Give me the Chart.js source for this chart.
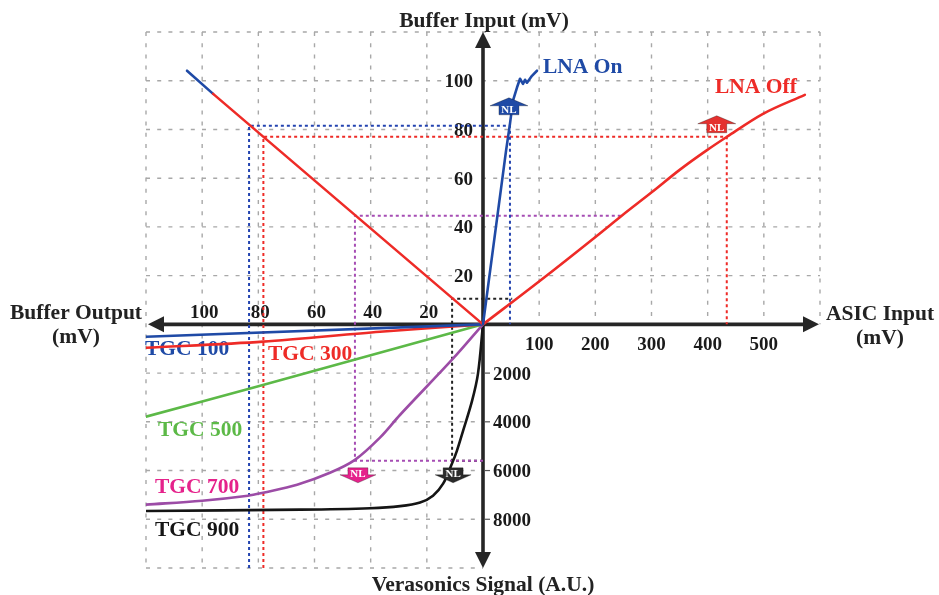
<!DOCTYPE html>
<html>
<head>
<meta charset="utf-8">
<script src="https://cdn.jsdelivr.net/npm/chart.js@4.4.1/dist/chart.umd.min.js"></script>
<style>
  html, body { margin: 0; padding: 0; background: #ffffff; }
  #wrap { width: 939px; height: 595px; }
</style>
</head>
<body>
<div id="wrap"><canvas id="chart" width="939" height="595"></canvas></div>
<script>
// ---- Quadrant I: ASIC input (mV) -> buffer input (mV)
const lnaOnAsic   = [0, 41, 48, 53.4, 60.5, 65.9, 71.2, 74.8, 78.3, 87.2, 96.1];
const lnaOnBufIn  = [0, 71.2, 82.3, 91.8, 97.2, 100.8, 98.7, 100.4, 99.2, 102.0, 104.1];
const lnaOffAsic  = [0, 101.5, 203, 247, 300.9, 350.7, 398.8, 434.4, 498.5, 573];
const lnaOffBufIn = [0, 17.9, 36.4, 44.6, 54.3, 63.5, 71.5, 77.0, 86.4, 94.2];

// ---- Quadrant II: buffer output (mV) -> buffer input (mV)
const bufferOutLin = [0, 96.1];
const bufferInLin  = [0, 94.6];
const bufferOutSat = [96.1, 105.4];
const bufferInSat  = [94.6, 104.1];

// ---- Quadrant III: buffer output (mV) -> Verasonics signal (A.U.)
const tgc100Out = [0, 120];
const tgc100Sig = [0, 510];
const tgc300Out = [0, 36.7, 78.3, 120];
const tgc300Sig = [0, 300, 710, 960];
const tgc500Out = [0, 40, 80, 120];
const tgc500Sig = [0, 1270, 2540, 3790];
const tgc700Out = [0, 10.7, 29.5, 36.7, 45.6, 54.5, 66.2, 78.3, 83.7, 100, 120];
const tgc700Sig = [0, 1410, 3710, 4650, 5560, 6090, 6580, 6910, 7035, 7240, 7400];
const tgc900Out = [0, 1.8, 3.9, 7.1, 9.3, 11, 14.2, 17.8, 22.4, 29.5, 40.2, 65, 120];
const tgc900Sig = [0, 2030, 3140, 4370, 5190, 5700, 6540, 7030, 7310, 7460, 7545, 7605, 7660];

// ---- Non-linearity (NL) thresholds: LNA On, LNA Off, TGC 700, TGC 900
const nlNames  = ['LNA On', 'LNA Off', 'TGC 700', 'TGC 900'];
const nlAsic   = [48, 434, 247, 52];
const nlBufIn  = [81.5, 77, 44.6, 10.5];
const nlBufOut = [83.3, 78.2, 45.6, 11];
const nlSignal = [10000, 10000, 5600, 5600];

// ---- Tick labels per half-axis
const bufferInTicks  = [20, 40, 60, 80, 100];
const bufferOutTicks = [20, 40, 60, 80, 100];
const asicTicks      = [100, 200, 300, 400, 500];
const signalTicks    = [2000, 4000, 6000, 8000];

// Each half-axis has its own unit per grid cell; the chart works in grid cells.
const asicX = v => v / 100;
const outX  = v => -v / 20;
const inY   = v => v / 20;
const sigY  = v => -v / 2000;

const zip = (xs, ys, fx, fy) => xs.map((v, i) => ({ x: fx(v), y: fy(ys[i]) }));

const COL = {
  blue: '#1f4aa6', red: '#ee2b27', green: '#5cb947', purple: '#9c4ca6',
  pink: '#e5228b', black: '#151515', axis: '#262626', grid: '#a8a8a8'
};
const FONT = "'Liberation Serif', 'DejaVu Serif', serif";

function curve(data, color, extra) {
  return Object.assign({
    data, borderColor: color, borderWidth: 2.6, pointRadius: 0, fill: false,
    showLine: true, tension: 0, order: 1, borderCapStyle: 'round', borderJoinStyle: 'round'
  }, extra || {});
}
function guide(points, color) {
  return {
    data: points, borderColor: color, borderWidth: 2, pointRadius: 0, fill: false,
    showLine: true, tension: 0, order: 2, borderDash: [3, 3]
  };
}

// Dotted NL guides: straight runs from each threshold to the axes
const guides = [
  guide([{ x: outX(nlBufOut[0]), y: sigY(nlSignal[0]) }, { x: outX(nlBufOut[0]), y: inY(nlBufIn[0]) },
         { x: asicX(nlAsic[0]), y: inY(nlBufIn[0]) }, { x: asicX(nlAsic[0]), y: 0 }], '#2343b0'),
  guide([{ x: outX(nlBufOut[1]), y: sigY(nlSignal[1]) }, { x: outX(nlBufOut[1]), y: inY(nlBufIn[1]) },
         { x: asicX(nlAsic[1]), y: inY(nlBufIn[1]) }, { x: asicX(nlAsic[1]), y: 0 }], '#ee2b27'),
  guide([{ x: 0, y: sigY(nlSignal[2]) }, { x: outX(nlBufOut[2]), y: sigY(nlSignal[2]) },
         { x: outX(nlBufOut[2]), y: inY(nlBufIn[2]) }, { x: asicX(nlAsic[2]), y: inY(nlBufIn[2]) }], '#a64db4'),
  guide([{ x: 0, y: sigY(nlSignal[3]) }, { x: outX(nlBufOut[3]), y: sigY(nlSignal[3]) },
         { x: outX(nlBufOut[3]), y: inY(nlBufIn[3]) }, { x: asicX(nlAsic[3]), y: inY(nlBufIn[3]) }], '#222222')
];

const datasets = [
  curve(zip(lnaOnAsic, lnaOnBufIn, asicX, inY), COL.blue),
  curve(zip(lnaOffAsic, lnaOffBufIn, asicX, inY), COL.red, { cubicInterpolationMode: 'monotone' }),
  curve(zip(bufferOutLin, bufferInLin, outX, inY), COL.red),
  curve(zip(bufferOutSat, bufferInSat, outX, inY), COL.blue),
  curve(zip(tgc100Out, tgc100Sig, outX, sigY), COL.blue),
  curve(zip(tgc300Out, tgc300Sig, outX, sigY), COL.red, { tension: 0.3 }),
  curve(zip(tgc500Out, tgc500Sig, outX, sigY), COL.green, { tension: 0.3 }),
  curve(zip(tgc700Out, tgc700Sig, outX, sigY), COL.purple, { tension: 0.35 }),
  curve(zip(tgc900Out, tgc900Sig, outX, sigY), COL.black, { tension: 0.35 }),
  ...guides
];

function seg(ctx, x1, y1, x2, y2) {
  ctx.beginPath(); ctx.moveTo(x1, y1); ctx.lineTo(x2, y2); ctx.stroke();
}

// Dashed grid on three quadrants plus the two arrowed axes
const quadrantFrame = {
  id: 'quadrantFrame',
  beforeDatasetsDraw(chart) {
    const { ctx, scales: { x, y } } = chart;
    const L = x.getPixelForValue(-6), R = x.getPixelForValue(6);
    const T = y.getPixelForValue(6), B = y.getPixelForValue(-5);
    const ox = x.getPixelForValue(0), oy = y.getPixelForValue(0);
    ctx.save();
    ctx.strokeStyle = COL.grid; ctx.lineWidth = 1.4; ctx.setLineDash([4, 7.2]);
    for (let u = -6; u <= 6; u++) {
      if (u === 0) continue;
      const px = x.getPixelForValue(u);
      seg(ctx, px, T, px, u < 0 ? B : oy);
    }
    for (let v = -5; v <= 6; v++) {
      if (v === 0) continue;
      const py = y.getPixelForValue(v);
      seg(ctx, L, py, v > 0 ? R : ox, py);
    }
    ctx.setLineDash([]);

    // axes
    ctx.strokeStyle = COL.axis; ctx.fillStyle = COL.axis; ctx.lineWidth = 3.6;
    const xl = L + 2, xr = R - 1, yt = T, yb = B;
    seg(ctx, xl + 12, oy, xr - 12, oy);
    seg(ctx, ox, yt + 12, ox, yb - 12);
    const tri = (a, b, c) => { ctx.beginPath(); ctx.moveTo(a[0], a[1]); ctx.lineTo(b[0], b[1]); ctx.lineTo(c[0], c[1]); ctx.closePath(); ctx.fill(); };
    tri([xl, oy], [xl + 16, oy - 8], [xl + 16, oy + 8]);
    tri([xr, oy], [xr - 16, oy - 8], [xr - 16, oy + 8]);
    tri([ox, yt], [ox - 8, yt + 16], [ox + 8, yt + 16]);
    tri([ox, yb], [ox - 8, yb - 16], [ox + 8, yb - 16]);

    // tick labels
    ctx.font = 'bold 19px ' + FONT;
    ctx.fillStyle = '#1a1a1a';
    ctx.textBaseline = 'alphabetic';
    ctx.textAlign = 'right';
    bufferInTicks.forEach(v => {
      const py = y.getPixelForValue(inY(v));
      const w = ctx.measureText(String(v)).width;
      ctx.fillStyle = '#ffffff'; ctx.fillRect(ox - 12 - w, py - 8, w + 4, 16);
      ctx.fillStyle = '#1a1a1a'; ctx.fillText(String(v), ox - 10, py + 6.5);
    });
    ctx.textAlign = 'left';
    ctx.strokeStyle = '#555'; ctx.lineWidth = 1.2;
    signalTicks.forEach(v => {
      const py = y.getPixelForValue(sigY(v));
      seg(ctx, ox + 2, py, ox + 7, py);
      ctx.fillText(String(v), ox + 10, py + 6.5);
    });
    ctx.textAlign = 'center';
    bufferOutTicks.forEach(v => {
      ctx.fillText(String(v), x.getPixelForValue(outX(v)) + 2, oy - 6.5);
    });
    asicTicks.forEach(v => {
      ctx.fillText(String(v), x.getPixelForValue(asicX(v)), oy + 25.5);
    });

    // axis titles
    ctx.font = 'bold 21.5px ' + FONT;
    ctx.fillStyle = '#222222';
    ctx.fillText('Buffer Input (mV)', ox + 1, 27);
    ctx.fillText('Verasonics Signal (A.U.)', ox, 591);
    ctx.fillText('Buffer Output', 76, 319);
    ctx.fillText('(mV)', 76, 343);
    ctx.fillText('ASIC Input', 880, 320);
    ctx.fillText('(mV)', 880, 344);

    // series labels
    ctx.textAlign = 'left';
    const lab = (t, c, px, py) => { ctx.fillStyle = c; ctx.fillText(t, px, py); };
    lab('LNA On', COL.blue, 543, 73);
    lab('LNA Off', COL.red, 715, 93);
    lab('TGC 100', COL.blue, 145, 355);
    lab('TGC 300', COL.red, 268, 360);
    lab('TGC 500', COL.green, 158, 436);
    lab('TGC 700', COL.pink, 155, 493);
    lab('TGC 900', COL.black, 155, 536);
    ctx.restore();
  },
  afterDatasetsDraw(chart) {
    const { ctx, scales: { x, y } } = chart;
    ctx.save();
    // NL arrow badges placed next to each threshold point
    const badge = (cx, top, color, up) => {
      ctx.beginPath();
      if (up) {
        ctx.moveTo(cx, top); ctx.lineTo(cx + 19, top + 8); ctx.lineTo(cx + 10, top + 8);
        ctx.lineTo(cx + 10, top + 17); ctx.lineTo(cx - 10, top + 17); ctx.lineTo(cx - 10, top + 8);
        ctx.lineTo(cx - 19, top + 8);
      } else {
        ctx.moveTo(cx - 10, top); ctx.lineTo(cx + 10, top); ctx.lineTo(cx + 10, top + 7);
        ctx.lineTo(cx + 18, top + 7); ctx.lineTo(cx, top + 15); ctx.lineTo(cx - 18, top + 7);
        ctx.lineTo(cx - 10, top + 7);
      }
      ctx.closePath();
      ctx.fillStyle = color; ctx.fill();
      ctx.strokeStyle = 'rgba(0,0,0,0.35)'; ctx.lineWidth = 0.8; ctx.stroke();
      ctx.fillStyle = '#ffffff';
      ctx.font = 'bold 11px ' + FONT;
      ctx.textAlign = 'center'; ctx.textBaseline = 'middle';
      ctx.fillText('NL', cx, up ? top + 12 : top + 6);
    };
    const p0 = [x.getPixelForValue(asicX(nlAsic[0])), y.getPixelForValue(inY(nlBufIn[0]))];
    const p1 = [x.getPixelForValue(asicX(nlAsic[1])), y.getPixelForValue(inY(nlBufIn[1]))];
    const p2 = [x.getPixelForValue(outX(nlBufOut[2])), y.getPixelForValue(sigY(nlSignal[2]))];
    const p3 = [x.getPixelForValue(outX(nlBufOut[3])), y.getPixelForValue(sigY(nlSignal[3]))];
    badge(p0[0] - 1, p0[1] - 28, COL.blue, true);
    badge(p1[0] - 10, p1[1] - 21, '#e4312f', true);
    badge(p2[0] + 3, p2[1] + 7, COL.pink, false);
    badge(p3[0] + 1, p3[1] + 7, '#2a2a2a', false);
    ctx.restore();
  }
};

new Chart(document.getElementById('chart'), {
  type: 'scatter',
  data: { datasets },
  options: {
    responsive: false,
    animation: false,
    layout: { padding: { left: 146, right: 119, top: 32, bottom: 27 } },
    scales: {
      x: { type: 'linear', min: -6, max: 6, display: false },
      y: { type: 'linear', min: -5, max: 6, display: false }
    },
    plugins: { legend: { display: false }, tooltip: { enabled: false } },
    elements: { line: { fill: false } }
  },
  plugins: [quadrantFrame]
});
</script>
</body>
</html>
